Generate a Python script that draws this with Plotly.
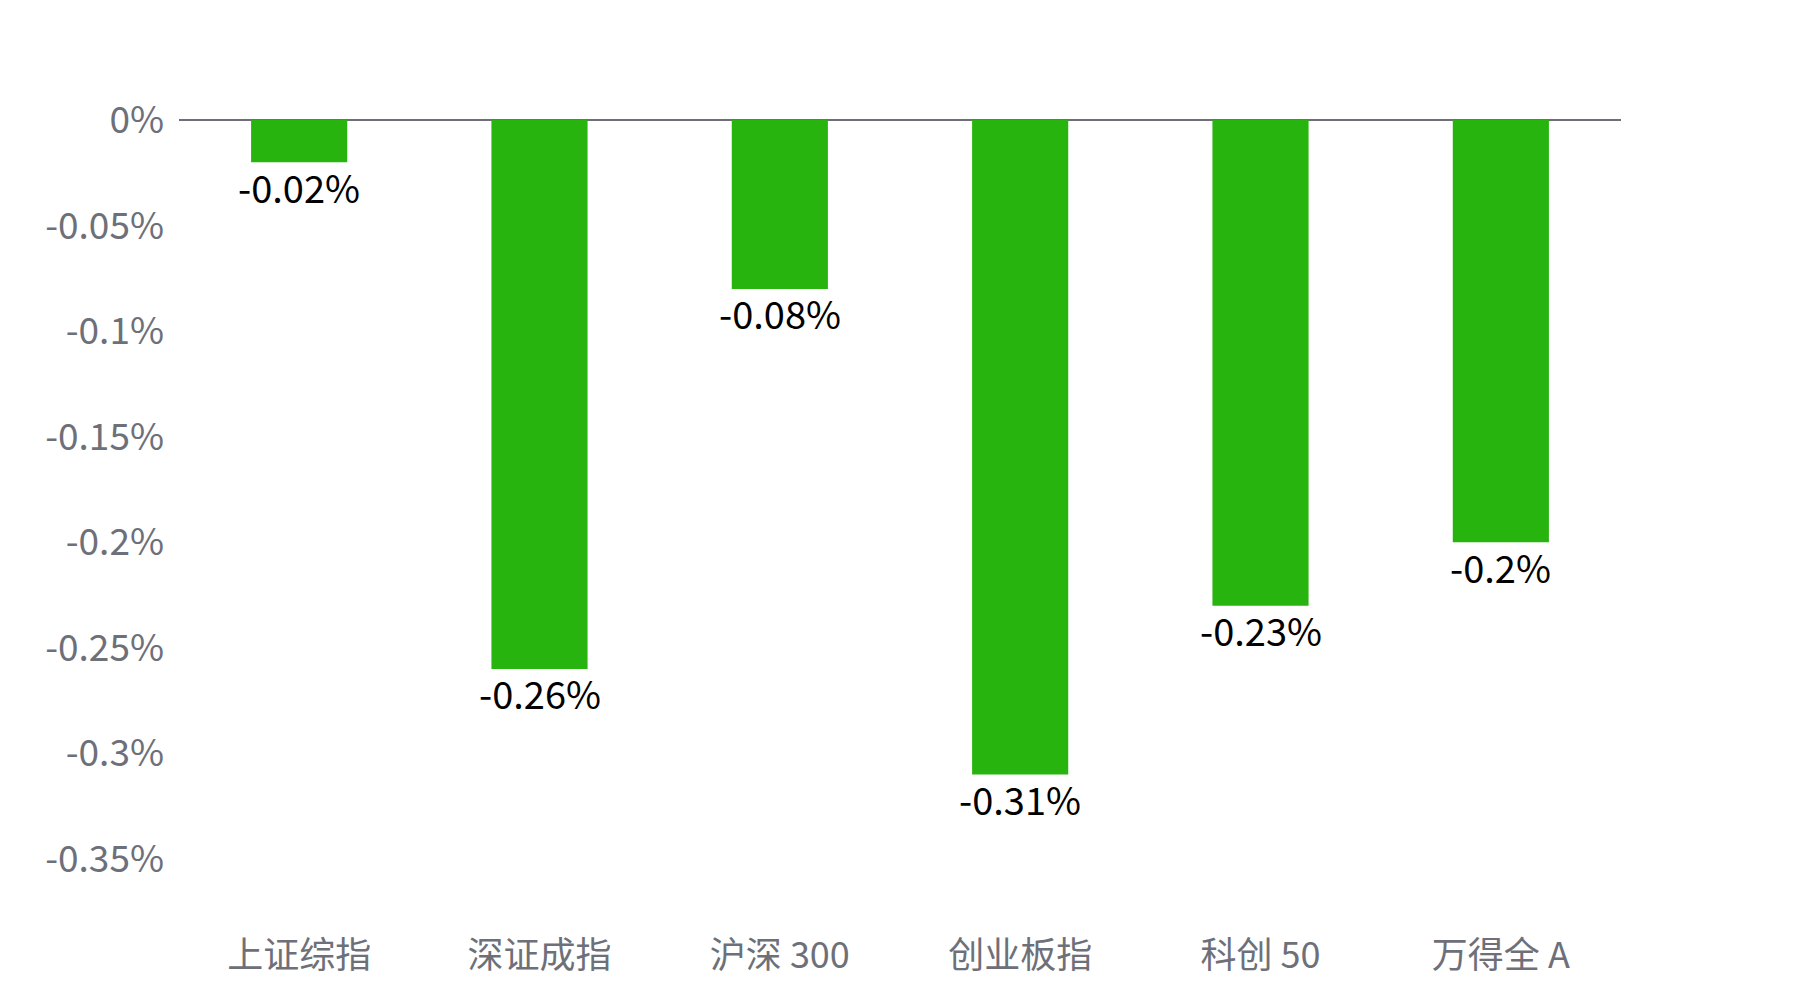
import plotly.graph_objects as go

categories = ["上证综指", "深证成指", "沪深 300", "创业板指", "科创 50", "万得全 A"]
values = [-0.02, -0.26, -0.08, -0.31, -0.23, -0.2]
tick_vals = [0, -0.05, -0.1, -0.15, -0.2, -0.25, -0.3, -0.35]
tick_text = ["0%", "-0.05%", "-0.1%", "-0.15%", "-0.2%", "-0.25%", "-0.3%", "-0.35%"]

labels = [f"{v:g}%" for v in values]
FONT = "Noto Sans CJK SC"

fig = go.Figure(go.Bar(
    x=categories, y=values,
    marker=dict(color="#28B40E", line=dict(width=0)),
    width=0.4, cliponaxis=False, hoverinfo="x+y",
))

for c, v, t in zip(categories, values, labels):
    fig.add_annotation(
        x=c, y=v, text=t, showarrow=False,
        yanchor="middle", yshift=-24,
        font=dict(family=FONT, size=38, color="#000000"),
    )

fig.update_layout(
    width=1800, height=1000,
    margin=dict(l=171, r=187, t=112, b=149),
    paper_bgcolor="white", plot_bgcolor="white",
    showlegend=False,
    font=dict(family=FONT),
)
fig.update_xaxes(
    showgrid=False, showline=False, ticks="",
    tickfont=dict(family=FONT, size=36, color="#6E7079"),
    ticklabelstandoff=72,
)
fig.update_yaxes(
    range=[-0.35, 0], tickvals=tick_vals, ticktext=tick_text,
    showgrid=False, zeroline=True, zerolinecolor="#6E7079", zerolinewidth=2,
    tickfont=dict(family=FONT, size=37, color="#6E7079"),
    ticklabelstandoff=14,
)

fig.write_html("out.html")
